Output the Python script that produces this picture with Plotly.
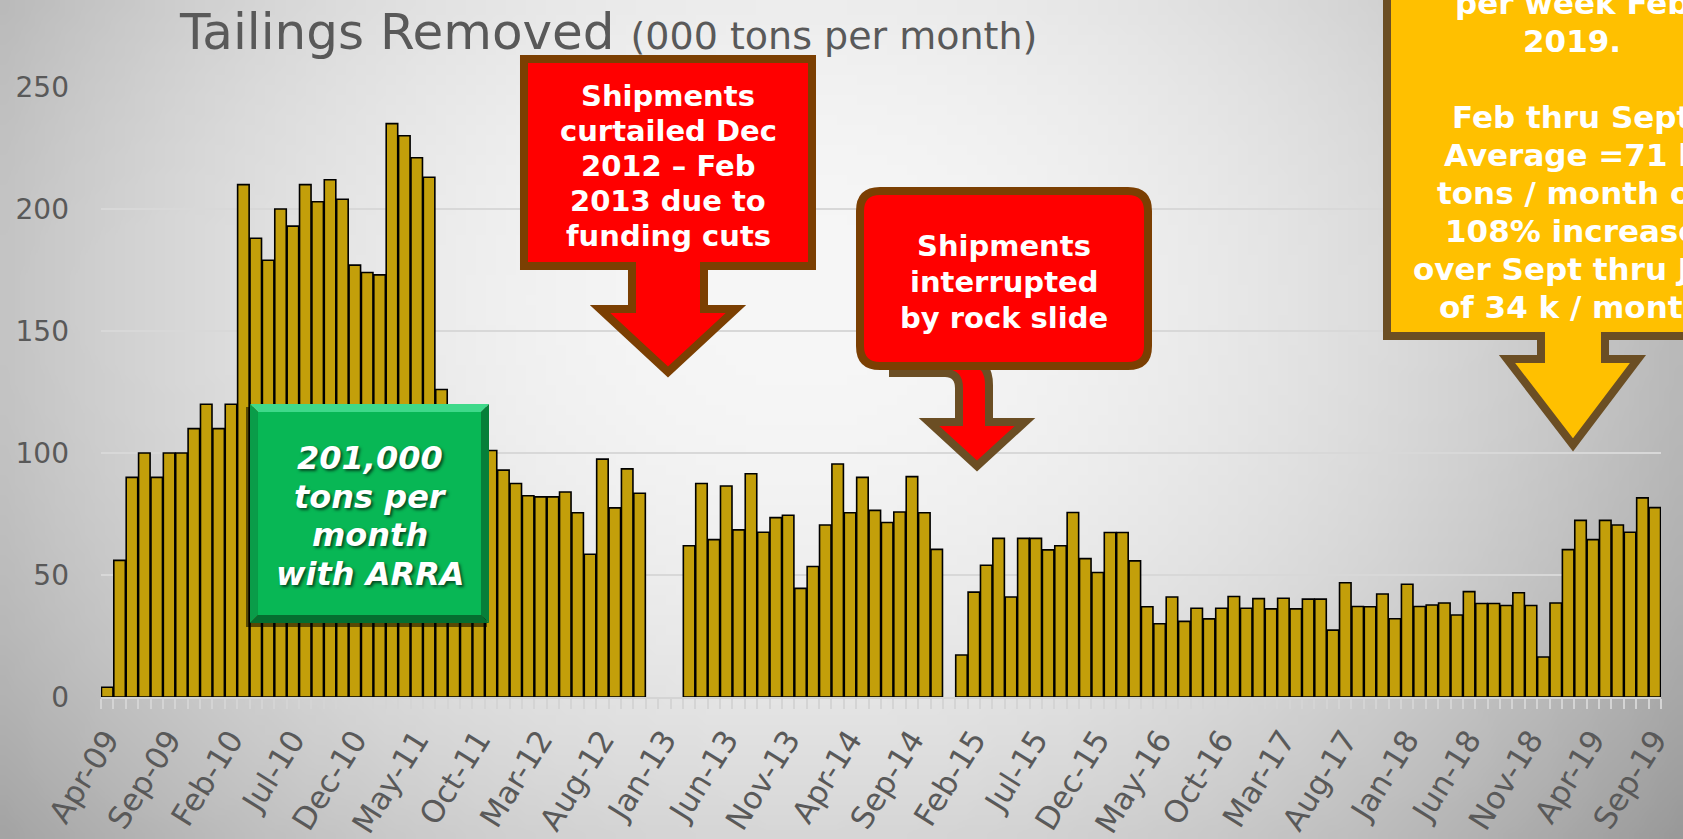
import base64, struct, zlib
import pandas as pd
import plotly.graph_objects as go

# ---------------- data ----------------
months = [d.strftime("%b-%y") for d in pd.date_range("2009-04-01", "2019-09-01", freq="MS")]
tons_2009 = [4, 56, 90, 100, 90, 100, 100, 110, 120]
tons_2010 = [110, 120, 210, 188, 179, 200, 193, 210, 203, 212, 204, 177]
tons_2011 = [174, 173, 235, 230, 221, 213, 126, 114, 108, 104, 101, 93]
tons_2012 = [87.5, 82.5, 82, 82, 84, 75.5, 58.5, 97.5, 77.5, 93.5, 83.5, None]
tons_2013 = [None, None, 62, 87.5, 64.5, 86.5, 68.5, 91.5, 67.5, 73.5, 74.5, 44.5]
tons_2014 = [53.5, 70.5, 95.5, 75.5, 90, 76.5, 71.5, 75.8, 90.3, 75.5, 60.5, None]
tons_2015 = [17.2, 43, 54, 65, 41, 65, 65, 60.3, 62, 75.6, 56.7, 51]
tons_2016 = [67.4, 67.4, 55.8, 37, 30, 41, 31, 36.4, 32, 36.4, 41.2, 36.4]
tons_2017 = [40.3, 36.1, 40.5, 36.1, 40.1, 40.1, 27.4, 46.8, 37.1, 37, 42.2, 32.1]
tons_2018 = [46.2, 37.1, 37.7, 38.5, 33.6, 43.2, 38.3, 38.3, 37.5, 42.7, 37.5, 16.4]
tons_2019 = [38.5, 60.4, 72.4, 64.5, 72.4, 70.5, 67.5, 81.6, 77.6]
tons = (tons_2009 + tons_2010 + tons_2011 + tons_2012 + tons_2013 + tons_2014
        + tons_2015 + tons_2016 + tons_2017 + tons_2018 + tons_2019)
label_step = 5
y_ticks = [0, 50, 100, 150, 200, 250]

callout_curtailed = ["Shipments", "curtailed Dec", "2012 \u2013 Feb", "2013 due to", "funding cuts"]
callout_rockslide = ["Shipments", "interrupted", "by rock slide"]
callout_increase = ["per week Feb", "2019.", "", "Feb thru Sept", "Average =71 k", "tons / month or",
                    "108% increase", "over Sept thru Jan", "of 34 k / month"]
callout_arra = ["201,000", "tons per", "month", "with ARRA"]

# ---------------- geometry helpers ----------------
W, H = 1683, 839
ML, MR, MT, MB = 101, 22, 87, 142
PW, PH = W - ML - MR, H - MT - MB


def px(x):
    return (x - ML) / PW


def py(y):
    return 1 - (y - MT) / PH


def poly(points):
    return "M " + " L ".join(f"{px(x):.5f},{py(y):.5f}" for x, y in points) + " Z"


def rrect(x0, y0, x1, y1, r):
    p = lambda x, y: f"{px(x):.5f},{py(y):.5f}"
    return (f"M {p(x0 + r, y0)} L {p(x1 - r, y0)} Q {p(x1, y0)} {p(x1, y0 + r)} "
            f"L {p(x1, y1 - r)} Q {p(x1, y1)} {p(x1 - r, y1)} L {p(x0 + r, y1)} "
            f"Q {p(x0, y1)} {p(x0, y1 - r)} L {p(x0, y0 + r)} Q {p(x0, y0)} {p(x0 + r, y0)} Z")


def gradient_png(w=168, h=84):
    rows = []
    for j in range(h):
        row = bytearray([0])
        Y = (j + 0.5) / h * H
        for i in range(w):
            X = (i + 0.5) / w * W
            r2 = ((X - 800) / 950) ** 2 + ((Y - 300) / 800) ** 2
            v = 247 - 72 * r2
            row.append(max(0, min(255, int(v))))
        rows.append(bytes(row))
    raw = b"".join(rows)

    def chunk(t, d):
        return struct.pack(">I", len(d)) + t + d + struct.pack(">I", zlib.crc32(t + d) & 0xffffffff)

    png = (b"\x89PNG\r\n\x1a\n" + chunk(b"IHDR", struct.pack(">IIBBBBB", w, h, 8, 0, 0, 0, 0))
           + chunk(b"IDAT", zlib.compress(raw)) + chunk(b"IEND", b""))
    return "data:image/png;base64," + base64.b64encode(png).decode()


GOLD = "#C39F0A"
TXT = "#595959"
FONT = "DejaVu Sans"

idx = list(range(len(months)))
fig = go.Figure(go.Bar(
    x=idx, y=tons, customdata=months,
    marker=dict(color=GOLD, line=dict(color="black", width=1.6)),
    hovertemplate="%{customdata}: %{y}<extra></extra>",
))

fig.update_layout(
    width=W, height=H,
    margin=dict(l=ML, r=MR, t=MT, b=MB, pad=0, autoexpand=False),
    paper_bgcolor="#dcdcdc", plot_bgcolor="rgba(0,0,0,0)",
    bargap=0.07, showlegend=False,
    font=dict(family=FONT, color=TXT),
)
fig.update_xaxes(
    range=[-0.5, len(months) - 0.5], automargin=False,
    tickmode="array", tickvals=idx[::label_step], ticktext=months[::label_step],
    tickangle=-58, tickfont=dict(size=31, color=TXT, family=FONT),
    ticks="outside", ticklen=10, tickcolor="rgba(0,0,0,0)",
    minor=dict(ticks="outside", ticklen=10, tickcolor="#d4d4d4", tickwidth=1.5,
               tickmode="array", tickvals=[i - 0.5 for i in range(len(months) + 1)], showgrid=False),
    showgrid=False, showline=True, linecolor="#d4d4d4", linewidth=2, zeroline=False,
)
fig.update_yaxes(
    range=[0, 250], tickmode="array", tickvals=y_ticks, automargin=False,
    tickfont=dict(size=28, color=TXT, family=FONT),
    showgrid=True, gridcolor="#d8d8d8", gridwidth=1.5, zeroline=False,
    ticks="", ticklabelstandoff=31, showline=False,
)

# background gradient
fig.add_layout_image(dict(
    source=gradient_png(), xref="paper", yref="paper",
    x=px(0), y=py(0), sizex=W / PW, sizey=H / PH,
    xanchor="left", yanchor="top", sizing="stretch", layer="below",
))

shapes = []
BROWN = "#7B3F02"
OLIVE = "#6B4E24"
# --- red callout 1 ---
shapes.append(dict(type="path", path=poly([(524, 59), (812, 59), (812, 266), (704, 266), (704, 309),
                                           (736, 309), (668, 372), (600, 309), (632, 309), (632, 266),
                                           (524, 266)]),
                   fillcolor="#FF0000", line=dict(color=BROWN, width=8)))
# --- red callout 2 (arrow then rounded box) ---
shapes.append(dict(type="path",
                   path=(f"M {px(893):.5f},{py(362):.5f} L {px(893):.5f},{py(373):.5f} "
                         f"L {px(945):.5f},{py(373):.5f} Q {px(959):.5f},{py(373):.5f} {px(959):.5f},{py(388):.5f} "
                         f"L {px(959):.5f},{py(422):.5f} L {px(929):.5f},{py(422):.5f} L {px(977):.5f},{py(466):.5f} "
                         f"L {px(1025):.5f},{py(422):.5f} L {px(989):.5f},{py(422):.5f} L {px(989):.5f},{py(385):.5f} "
                         f"Q {px(989):.5f},{py(362):.5f} {px(970):.5f},{py(362):.5f} Z"),
                   fillcolor="#FF0000", line=dict(color=OLIVE, width=8)))
shapes.append(dict(type="path", path=rrect(860, 191, 1148, 366, 20),
                   fillcolor="#FF0000", line=dict(color=BROWN, width=8)))
# --- yellow callout ---
shapes.append(dict(type="path", path=poly([(1387, -20), (1387, 336), (1541, 336), (1541, 359), (1507, 359),
                                           (1573, 445), (1638, 359), (1605, 359), (1605, 336), (1770, 336),
                                           (1770, -20)]),
                   fillcolor="#FFC000", line=dict(color=OLIVE, width=8)))
# --- green bevelled box ---
gx0, gy0, gx1, gy1, b = 250, 404, 489, 623, 8
shapes.append(dict(type="path", path=poly([(gx0 - 4, gy0 + 3), (gx1 - 2, gy0 + 3), (gx1 - 2, gy1 + 4), (gx0 - 4, gy1 + 4)]),
                   fillcolor="rgba(0,0,0,0.55)", line=dict(width=0)))
shapes.append(dict(type="path", path=poly([(gx0, gy0), (gx1, gy0), (gx1 - b, gy0 + b), (gx0 + b, gy0 + b)]),
                   fillcolor="#3FD98A", line=dict(width=0)))
shapes.append(dict(type="path", path=poly([(gx0, gy0), (gx0 + b, gy0 + b), (gx0 + b, gy1 - b), (gx0, gy1)]),
                   fillcolor="#0A9C49", line=dict(width=0)))
shapes.append(dict(type="path", path=poly([(gx1, gy0), (gx1, gy1), (gx1 - b, gy1 - b), (gx1 - b, gy0 + b)]),
                   fillcolor="#067F39", line=dict(width=0)))
shapes.append(dict(type="path", path=poly([(gx0, gy1), (gx1, gy1), (gx1 - b, gy1 - b), (gx0 + b, gy1 - b)]),
                   fillcolor="#056E30", line=dict(width=0)))
shapes.append(dict(type="path", path=poly([(gx0 + b, gy0 + b), (gx1 - b, gy0 + b), (gx1 - b, gy1 - b), (gx0 + b, gy1 - b)]),
                   fillcolor="#08B755", line=dict(width=0)))
for s in shapes:
    s.update(xref="paper", yref="paper", layer="above")
    fig.add_shape(**s)

# ---------------- texts ----------------
fig.add_annotation(
    x=px(177), y=py(32), xref="paper", yref="paper", xanchor="left", yanchor="middle", showarrow=False,
    text="Tailings Removed <span style='font-size:38px'>(000 tons per month)</span>",
    font=dict(size=50, color=TXT, family=FONT),
)


def text_block(lines, cx, first_y, spacing, font):
    for i, line in enumerate(lines):
        if not line:
            continue
        fig.add_annotation(x=px(cx), y=py(first_y + i * spacing), xref="paper", yref="paper",
                           showarrow=False, xanchor="center", yanchor="middle", text=line, font=font)


WB = dict(family=FONT, color="white", weight="bold")
text_block(callout_curtailed, 668, 96, 35, dict(size=29, **WB))
text_block(callout_rockslide, 1004, 246, 36, dict(size=29, **WB))
text_block(callout_increase, 1572, 3, 38, dict(size=31, **WB))
text_block(callout_arra, 370, 458, 38.7,
           dict(size=32, family=FONT, color="white", weight="bold", style="italic",
                shadow="2px 2px 3px rgba(0,0,0,0.6)"))

fig.write_html("out.html", config={"displayModeBar": False},
               post_script="document.body.style.margin='0';document.body.style.overflow='hidden';")
